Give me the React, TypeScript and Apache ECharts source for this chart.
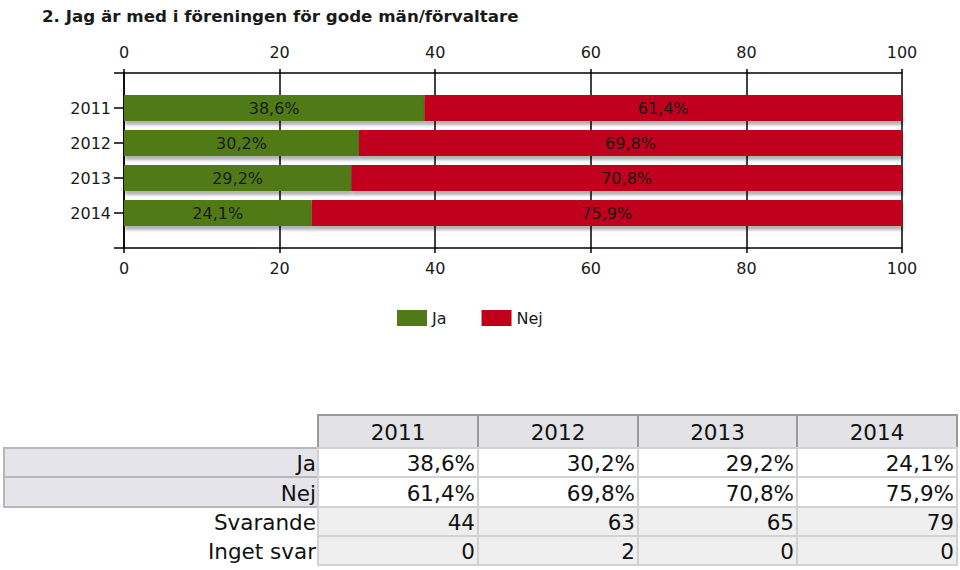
import React, { useEffect, useRef } from "react";
import * as echarts from "echarts";

const TITLE = "2. Jag är med i föreningen för gode män/förvaltare";
const YEARS = ["2011", "2012", "2013", "2014"];
const JA = [38.6, 30.2, 29.2, 24.1];
const NEJ = [61.4, 69.8, 70.8, 75.9];
const SVARANDE = [44, 63, 65, 79];
const INGET_SVAR = [0, 2, 0, 0];
const ROW_LABELS = ["Ja", "Nej", "Svarande", "Inget svar"];
const X_MIN = 0;
const X_MAX = 100;
const X_INTERVAL = 20;

const GREEN = "#4f7a17";
const RED = "#c0001a";
const FONT = "DejaVu Sans";

const pct = (v: number) => v.toFixed(1).replace(".", ",") + "%";

function buildTable() {
  const colEdges = [318, 478, 638, 797, 957];
  const rowEdges = [415, 448, 477, 507, 536, 565];
  const tFont = `21.5px "${FONT}"`;
  const els: any[] = [];
  YEARS.forEach((y, i) => {
    els.push({
      type: "rect",
      shape: { x: colEdges[i], y: rowEdges[0], width: colEdges[i + 1] - colEdges[i], height: rowEdges[1] - rowEdges[0] },
      style: { fill: "#e2e2e7", stroke: "#9a9a9a", lineWidth: 2 },
    });
    els.push({
      type: "text",
      x: (colEdges[i] + colEdges[i + 1]) / 2,
      y: (rowEdges[0] + rowEdges[1]) / 2 + 1,
      style: { text: y, fill: "#111", font: tFont, align: "center", verticalAlign: "middle" },
    });
  });
  const rows = [JA.map(pct), NEJ.map(pct), SVARANDE.map(String), INGET_SVAR.map(String)];
  rows.forEach((vals, r) => {
    const top = rowEdges[r + 1];
    const h = rowEdges[r + 2] - top;
    const shaded = r < 2;
    if (shaded) {
      els.push({
        type: "rect",
        shape: { x: 4, y: top, width: colEdges[0] - 4, height: h },
        style: { fill: "#e4e4ea", stroke: "#b8b8b8", lineWidth: 2 },
      });
    }
    els.push({
      type: "text",
      x: colEdges[0] - 2,
      y: top + h / 2 + 1,
      style: { text: ROW_LABELS[r], fill: "#111", font: tFont, align: "right", verticalAlign: "middle" },
    });
    vals.forEach((v, i) => {
      els.push({
        type: "rect",
        shape: { x: colEdges[i], y: top, width: colEdges[i + 1] - colEdges[i], height: h },
        style: { fill: shaded ? "#ffffff" : "#efefef", stroke: "#d2d2d2", lineWidth: 2 },
      });
      els.push({
        type: "text",
        x: colEdges[i + 1] - 3,
        y: top + h / 2 + 1,
        style: { text: v, fill: "#111", font: tFont, align: "right", verticalAlign: "middle" },
      });
    });
  });
  return els;
}

export default function App() {
  const ref = useRef<HTMLDivElement>(null);
  useEffect(() => {
    if (!ref.current) return;
    const chart = echarts.init(ref.current, null, { renderer: "svg" });
    const cats = ["", ...YEARS, ""];
    const pad = (arr: number[]) => ["-", ...arr, "-"];
    const axisText = { fontFamily: FONT, fontSize: 16, color: "#1a1a1a" };
    const barLabel = {
      show: true,
      position: "inside",
      fontFamily: FONT,
      fontSize: 16,
      color: "#1a1a1a",
      formatter: (p: any) => pct(p.value),
    };
    chart.setOption({
      animation: false,
      backgroundColor: "#ffffff",
      title: {
        text: TITLE,
        left: 37,
        top: 2,
        textStyle: { fontFamily: FONT, fontSize: 16.7, fontWeight: "bold", color: "#1a1a1a" },
      },
      legend: {
        left: 392,
        top: 305,
        icon: "rect",
        itemWidth: 30,
        itemHeight: 16,
        itemGap: 35,
        textStyle: { fontFamily: FONT, fontSize: 16, color: "#1a1a1a" },
        data: ["Ja", "Nej"],
      },
      grid: { left: 124, right: 58, top: 73, height: 175, containLabel: false },
      xAxis: [
        {
          type: "value",
          position: "top",
          min: X_MIN,
          max: X_MAX,
          interval: X_INTERVAL,
          axisLine: { show: true, lineStyle: { color: "#000", width: 1.5 } },
          axisTick: { show: true, length: 4, lineStyle: { color: "#000", width: 1.5 } },
          axisLabel: { ...axisText, margin: 13 },
          splitLine: { show: false },
        },
        {
          type: "value",
          position: "bottom",
          min: X_MIN,
          max: X_MAX,
          interval: X_INTERVAL,
          axisLine: { show: true, lineStyle: { color: "#000", width: 1.5 } },
          axisTick: { show: true, length: 5, lineStyle: { color: "#000", width: 1.5 } },
          axisLabel: { ...axisText, margin: 12 },
          splitLine: { show: true, lineStyle: { color: "#000", width: 1.5 } },
        },
      ],
      yAxis: {
        type: "category",
        data: cats,
        inverse: true,
        boundaryGap: false,
        axisLine: { show: true, lineStyle: { color: "#000", width: 1.5 } },
        axisTick: { show: true, length: 10, interval: 0, lineStyle: { color: "#000", width: 1.5 } },
        axisLabel: { ...axisText, margin: 13, interval: 0 },
        splitLine: { show: false },
      },
      series: [
        {
          name: "Ja",
          type: "bar",
          stack: "total",
          xAxisIndex: 1,
          barWidth: 26,
          data: pad(JA),
          itemStyle: { color: GREEN, shadowColor: "rgba(0,0,0,0.3)", shadowOffsetY: 4, shadowOffsetX: 1, shadowBlur: 3 },
          label: barLabel,
        },
        {
          name: "Nej",
          type: "bar",
          stack: "total",
          xAxisIndex: 1,
          barWidth: 26,
          data: pad(NEJ),
          itemStyle: { color: RED, shadowColor: "rgba(0,0,0,0.3)", shadowOffsetY: 4, shadowOffsetX: 1, shadowBlur: 3 },
          label: barLabel,
        },
      ],
      graphic: buildTable(),
    });
    return () => chart.dispose();
  }, []);
  return (
    <div
      ref={ref}
      style={{ position: "fixed", left: 0, top: 0, width: 960, height: 570, background: "#fff" }}
    />
  );
}
